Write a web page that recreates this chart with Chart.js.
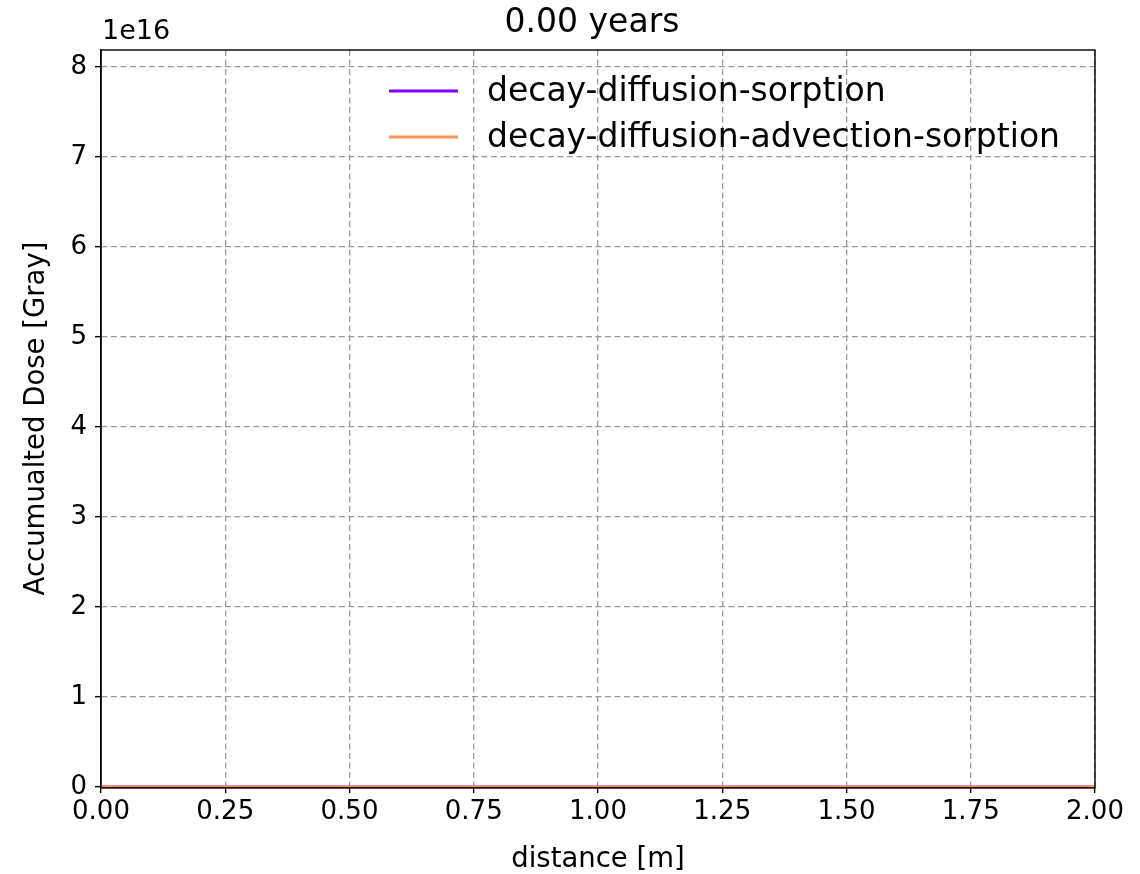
<!DOCTYPE html>
<html>
<head>
<meta charset="utf-8">
<script src="https://cdn.jsdelivr.net/npm/chart.js@4.4.1/dist/chart.umd.min.js"></script>
<style>
  html, body { margin: 0; padding: 0; background: #ffffff; }
  #wrap { width: 1140px; height: 874px; position: relative; }
</style>
</head>
<body>
<div id="wrap"><canvas id="c" width="1140" height="874"></canvas></div>
<script>
// ---- data ----
const distance = [0.00, 0.25, 0.50, 0.75, 1.00, 1.25, 1.50, 1.75, 2.00];
const doseDiffusionSorption = [0, 0, 0, 0, 0, 0, 0, 0, 0];
const doseDiffusionAdvectionSorption = [0, 0, 0, 0, 0, 0, 0, 0, 0];
const seriesNames = ['decay-diffusion-sorption', 'decay-diffusion-advection-sorption'];
const xTickValues = [0.00, 0.25, 0.50, 0.75, 1.00, 1.25, 1.50, 1.75, 2.00];
const yTickValues = [0, 1, 2, 3, 4, 5, 6, 7, 8]; // in units of 1e16
const yScaleFactor = 1e16;
const titleText = '0.00 years';
const xLabel = 'distance [m]';
const yLabel = 'Accumualted Dose [Gray]';
const yExponentText = '1e16';
const yMax = 8.19e16;

const FONT = "'DejaVu Sans', sans-serif";
const colors = ['#8000ff', '#ff9650'];

const toPts = (xs, ys) => xs.map((x, i) => ({x: x, y: ys[i]}));

const decor = {
  id: 'decor',
  afterDatasetsDraw(chart) {
    const {ctx, chartArea: a} = chart;
    ctx.save();
    ctx.strokeStyle = '#000';
    ctx.lineWidth = 1.4;
    ctx.setLineDash([]);
    ctx.strokeRect(a.left, a.top, a.right - a.left, a.bottom - a.top + 0.8);
    ctx.restore();
  },
  afterDraw(chart) {
    const {ctx, chartArea: a} = chart;
    ctx.save();
    // title
    ctx.fillStyle = '#000';
    ctx.font = '33px ' + FONT;
    ctx.textAlign = 'center';
    ctx.textBaseline = 'alphabetic';
    ctx.fillText(titleText, (a.left + a.right) / 2 - 6, 32);
    // exponent
    ctx.font = '27px ' + FONT;
    ctx.textAlign = 'left';
    ctx.fillText(yExponentText, a.left + 1, 39);
    // legend
    ctx.font = '33px ' + FONT;
    ctx.textBaseline = 'middle';
    const ly = [91, 137];
    seriesNames.forEach((n, i) => {
      ctx.strokeStyle = colors[i];
      ctx.lineWidth = 3;
      ctx.beginPath();
      ctx.moveTo(389, ly[i]);
      ctx.lineTo(458, ly[i]);
      ctx.stroke();
      ctx.fillStyle = '#000';
      ctx.fillText(n, 487, ly[i] + 1);
    });
    ctx.restore();
  }
};

const gridOpts = { color: '#999', lineWidth: 1.3, drawTicks: true, tickLength: 6, tickColor: '#000', tickWidth: 1.4, tickBorderDash: [] };

new Chart(document.getElementById('c'), {
  type: 'line',
  data: {
    datasets: [
      { label: seriesNames[0], data: toPts(distance, doseDiffusionSorption), borderColor: colors[0], backgroundColor: colors[0], borderWidth: 3, pointRadius: 0, clip: false, order: 1 },
      { label: seriesNames[1], data: toPts(distance, doseDiffusionAdvectionSorption), borderColor: colors[1], backgroundColor: colors[1], borderWidth: 3, pointRadius: 0, clip: false, order: 0 }
    ]
  },
  options: {
    responsive: false,
    animation: false,
    devicePixelRatio: 1,
    layout: { padding: { top: 50, right: 45, left: 0, bottom: 0 } },
    plugins: { legend: { display: false }, title: { display: false }, tooltip: { enabled: false } },
    scales: {
      x: {
        type: 'linear', min: 0, max: 2, bounds: 'data',
        afterFit(s) { s.height = 87; },
        afterBuildTicks(s) { s.ticks = xTickValues.map(v => ({value: v})); s.min = 0; s.max = 2; },
        ticks: { color: '#000', padding: 4, maxRotation: 0, autoSkip: false,
                 font: { family: FONT, size: 26 }, callback: v => Number(v).toFixed(2) },
        grid: gridOpts,
        border: { display: true, color: '#000', width: 1.4, dash: [6, 3.5] },
        title: { display: true, text: xLabel, color: '#000', font: { family: FONT, size: 27.5 }, padding: { top: 0, bottom: -2 } }
      },
      y: {
        type: 'linear', min: 0, max: yMax, bounds: 'data',
        afterFit(s) { s.width = 101; },
        afterBuildTicks(s) { s.ticks = yTickValues.map(v => ({value: v * yScaleFactor})); s.min = 0; s.max = yMax; },
        ticks: { color: '#000', padding: 8, autoSkip: false,
                 font: { family: FONT, size: 26 }, callback: v => String(Math.round(v / yScaleFactor)) },
        grid: gridOpts,
        border: { display: true, color: '#000', width: 1.4, dash: [6, 3.5] },
        title: { display: true, text: yLabel, color: '#000', font: { family: FONT, size: 27.5 }, padding: { top: 20, bottom: 0 } }
      }
    }
  },
  plugins: [decor]
});
</script>
</body>
</html>
